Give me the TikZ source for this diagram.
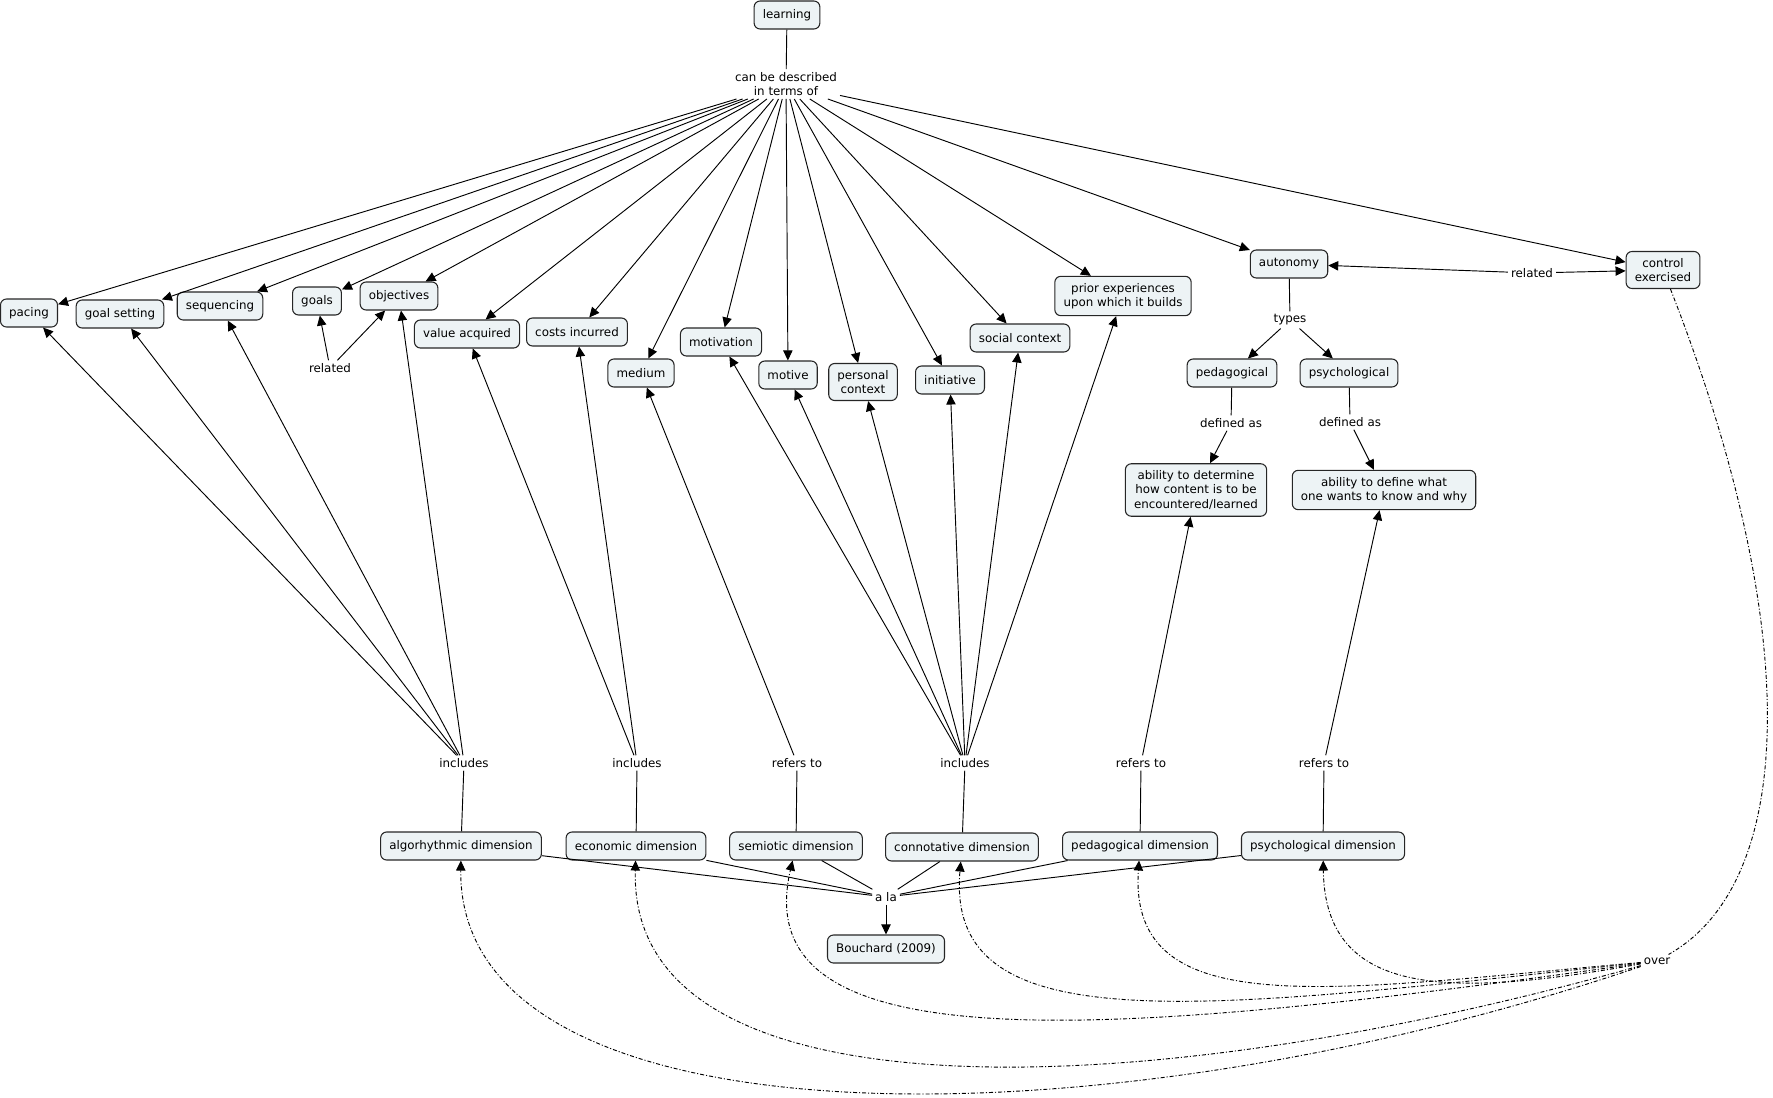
\documentclass[tikz,border=0pt]{standalone}
\usepackage{fontspec}
\setmainfont{DejaVu Sans}
\usetikzlibrary{arrows.meta}
\definecolor{boxfill}{RGB}{237,243,245}

\begin{document}
\begin{tikzpicture}[x=0.75pt, y=-0.75pt, line width=0.7pt,
  every node/.style={font=\fontsize{8.9}{10.9}\selectfont, align=center},
  concept/.style={draw=black!85, fill=boxfill, rounded corners=4.5pt, line width=0.8pt, inner xsep=6.5pt, inner ysep=5pt, minimum height=21pt},
  phrase/.style={inner sep=2pt},
  >={Triangle[length=7.5pt, width=7pt]},
  overlink/.style={->, dash pattern=on 3pt off 1.5pt on 0.8pt off 1.5pt}]
\useasboundingbox (0,0) rectangle (1773,1098);
\node (learning) at (787,15) [concept] {learning};
\node (describe) at (786,84) [phrase] {can be described\\in terms of};
\node (pacing) at (29,313) [concept] {pacing};
\node (goalsetting) at (120,314) [concept] {goal setting};
\node (sequencing) at (220,306) [concept] {sequencing};
\node (goals) at (317,301) [concept] {goals};
\node (objectives) at (399,296) [concept] {objectives};
\node (relgoals) at (330,368) [phrase] {related};
\node (value) at (467,334) [concept] {value acquired};
\node (costs) at (577,332) [concept] {costs incurred};
\node (medium) at (641,373) [concept] {medium};
\node (motivation) at (721,342) [concept] {motivation};
\node (motive) at (788,375) [concept] {motive};
\node (personal) at (863,382) [concept] {personal\\context};
\node (initiative) at (950,380) [concept] {initiative};
\node (social) at (1020,338) [concept] {social context};
\node (prior) at (1123,296) [concept] {prior experiences\\upon which it builds};
\node (autonomy) at (1289,264) [concept] {autonomy};
\node (control) at (1663,270) [concept] {control\\exercised};
\node (relcontrol) at (1532,273) [phrase] {related};
\node (types) at (1290,320) [phrase] {types};
\node (pedagogical) at (1232,373) [concept] {pedagogical};
\node (psychological) at (1349,373) [concept] {psychological};
\node (defpedag) at (1231,423) [phrase] {defined as};
\node (defpsych) at (1350,422) [phrase] {defined as};
\node (determine) at (1196,490) [concept] {ability to determine\\how content is to be\\encountered/learned};
\node (define) at (1384,490) [concept] {ability to define what\\one wants to know and why};
\node (incalg) at (464,763) [phrase] {includes};
\node (inceco) at (637,763) [phrase] {includes};
\node (refsem) at (797,763) [phrase] {refers to};
\node (inccon) at (965,763) [phrase] {includes};
\node (refped) at (1141,763) [phrase] {refers to};
\node (refpsy) at (1324,763) [phrase] {refers to};
\node (alg) at (461,846) [concept] {algorhythmic dimension};
\node (eco) at (636,846) [concept] {economic dimension};
\node (sem) at (796,846) [concept] {semiotic dimension};
\node (con) at (962,847) [concept] {connotative dimension};
\node (peddim) at (1140,846) [concept] {pedagogical dimension};
\node (psydim) at (1323,846) [concept] {psychological dimension};
\node (ala) at (886,897) [phrase] {a la};
\node (bouchard) at (886,949) [concept] {Bouchard (2009)};
\node (over) at (1657,961) [phrase] {over};
\draw (learning) -- (describe);
\draw [->] (describe) edge (pacing) edge (goalsetting) edge (sequencing) edge (goals) edge (objectives)
  edge (value) edge (costs) edge (medium) edge (motivation) edge (motive) edge (personal)
  edge (initiative) edge (social) edge (prior) edge (autonomy) edge (control);
\draw [->] (relgoals) edge (goals) edge (objectives);
\draw [->] (relcontrol) edge (autonomy) edge (control);
\draw (autonomy) -- (types);
\draw [->] (types) edge (pedagogical) edge (psychological);
\draw (pedagogical) -- (defpedag);
\draw [->] (defpedag) -- (determine);
\draw (psychological) -- (defpsych);
\draw [->] (defpsych) -- (define);
\draw (alg) -- (incalg);
\draw [->] (incalg) edge (pacing) edge (goalsetting) edge (sequencing) edge (objectives);
\draw (eco) -- (inceco);
\draw [->] (inceco) edge (value) edge (costs);
\draw (sem) -- (refsem);
\draw [->] (refsem) -- (medium);
\draw (con) -- (inccon);
\draw [->] (inccon) edge (motivation) edge (motive) edge (personal) edge (initiative) edge (social) edge (prior);
\draw (peddim) -- (refped);
\draw [->] (refped) -- (determine);
\draw (psydim) -- (refpsy);
\draw [->] (refpsy) -- (define);
\draw (ala) edge (alg) edge (eco) edge (sem) edge (con) edge (peddim) edge (psydim);
\draw [->] (ala) -- (bouchard);
\draw [overlink, -] (control) .. controls (1800,620) and (1800,880) .. (over);
\draw [overlink] (over) .. controls (1100,1150) and (458,1150) .. (alg);
\draw [overlink] (over) .. controls (1150,1105) and (628,1125) .. (eco);
\draw [overlink] (over) .. controls (1100,1040) and (745,1065) .. (sem);
\draw [overlink] (over) .. controls (1200,1010) and (945,1045) .. (con);
\draw [overlink] (over) .. controls (1330,990) and (1128,1025) .. (peddim);
\draw [overlink] (over) .. controls (1450,998) and (1325,998) .. (psydim);
\end{tikzpicture}
\end{document}
